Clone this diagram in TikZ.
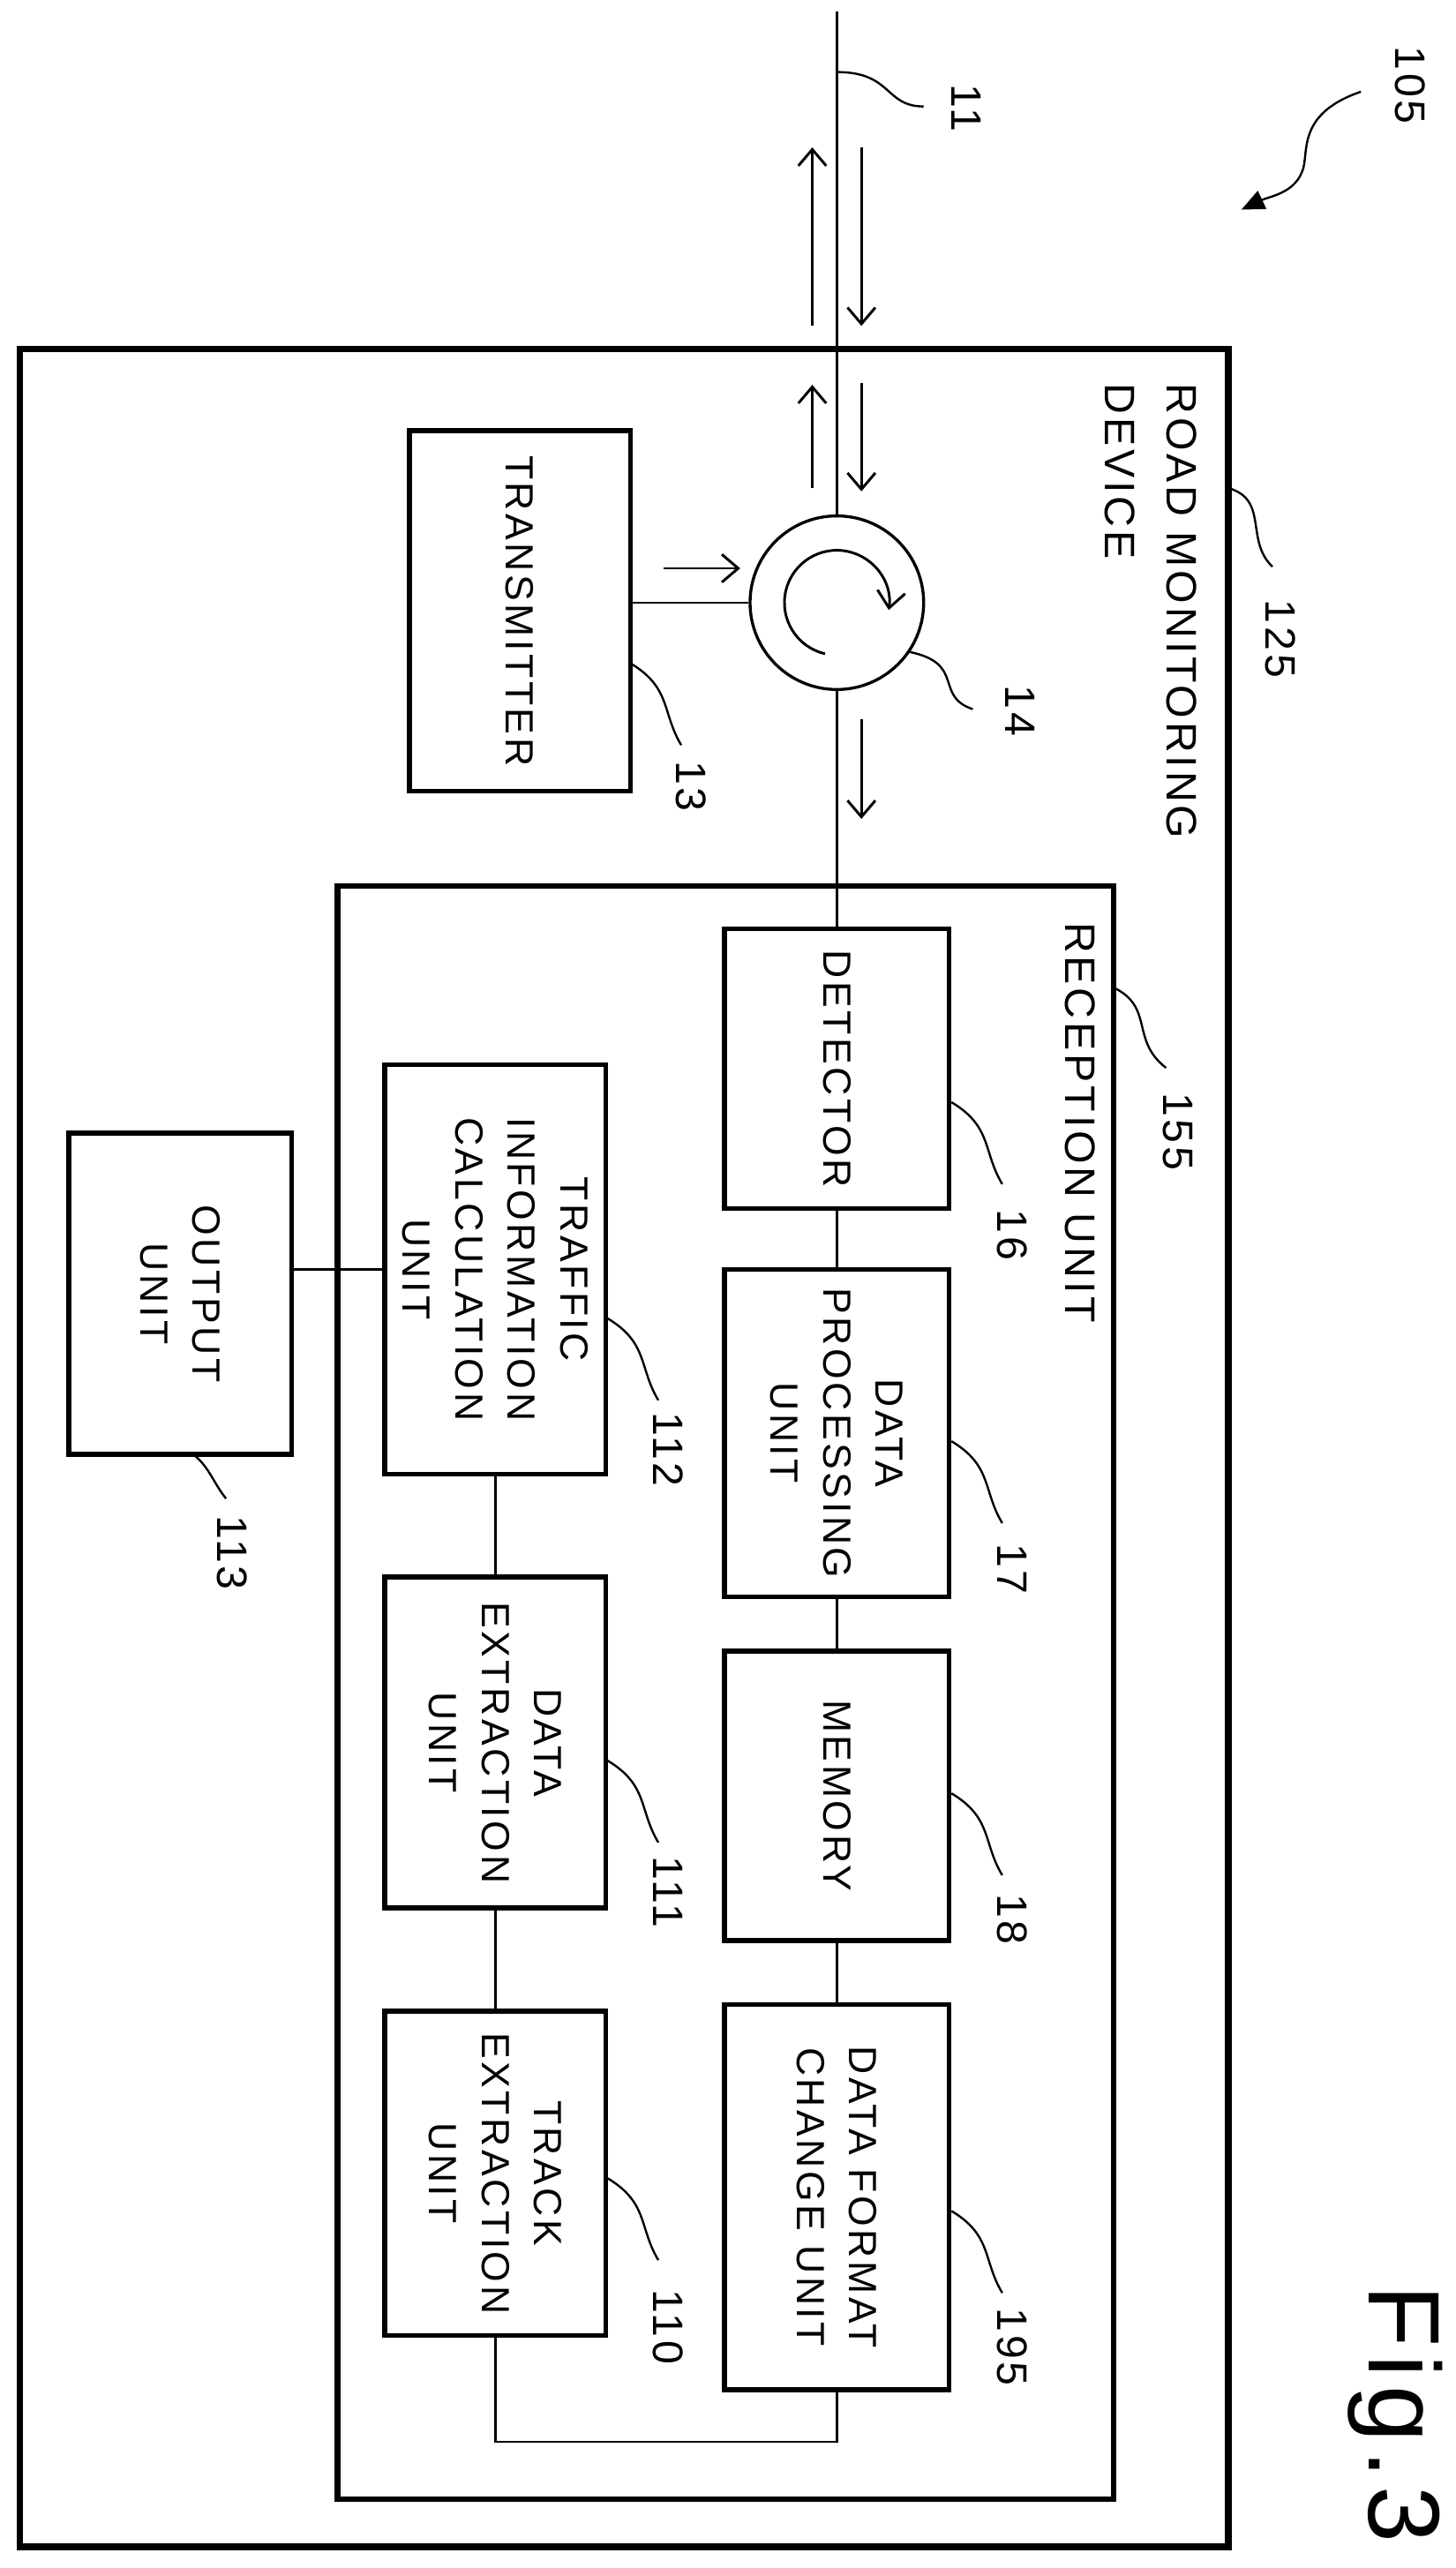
\documentclass[tikz,border=0pt]{standalone}
\usepackage{fontspec}
\setmainfont{Liberation Sans}[LetterSpace=8]
\usetikzlibrary{arrows.meta,calc}
\begin{document}
\begin{tikzpicture}[x=1pt,y=1pt,
  box/.style={draw,line width=3pt,inner sep=0pt},
  txt/.style={rotate=-90,align=center,font=\fontsize{24}{32}\selectfont,inner sep=0pt},
  lbl/.style={rotate=-90,font=\fontsize{26}{30}\selectfont,inner sep=0pt},
  wire/.style={line width=1.3pt},
  lead/.style={line width=1.3pt},
  sig/.style={line width=1.6pt,-{Straight Barb[length=10pt,width=17pt,line width=1.6pt]}}]
\useasboundingbox (0,0) rectangle (889,-1568);
% outer boxes
\draw[line width=4pt] (12,-213) rectangle (750,-1555);
\draw[line width=3.5pt] (206,-541) rectangle (680,-1526);
\node[rotate=-90,anchor=north west,align=left,inner sep=0pt,font=\fontsize{26}{38}\selectfont] (rmd) at (731,-234) {ROAD MONITORING\\DEVICE};
\node[rotate=-90,anchor=north west,inner sep=0pt,font=\fontsize{26}{32}\selectfont] (rut) at (669,-563) {RECEPTION UNIT};
% circulator
\node[draw,circle,line width=1.8pt,minimum size=106pt,inner sep=0pt] (circ) at (511,-368) {};
\draw[sig] ($(circ.center)+(257:32)$) arc[start angle=257,end angle=-8,radius=32];
% boxes
\node[box,minimum width=135pt,minimum height=220pt] (tx) at (317.5,-373) {};
\node[txt] (txt1) at (tx) {TRANSMITTER};
\node[box,minimum width=137pt,minimum height=171pt] (det) at (511,-652.5) {};
\node[txt] (txt2) at (det) {DETECTOR};
\node[box,minimum width=137pt,minimum height=200pt] (dp) at (511,-875) {};
\node[txt] (txt3) at (dp) {DATA\\PROCESSING\\UNIT};
\node[box,minimum width=137pt,minimum height=177pt] (mem) at (511,-1096.5) {};
\node[txt] (txt4) at (mem) {MEMORY};
\node[box,minimum width=137pt,minimum height=235pt] (dfc) at (511,-1341.5) {};
\node[txt] (txt5) at (dfc) {DATA FORMAT\\CHANGE UNIT};
\node[box,minimum width=135pt,minimum height=250pt] (tic) at (302.5,-775) {};
\node[txt] (txt6) at (tic) {TRAFFIC\\INFORMATION\\CALCULATION\\UNIT};
\node[box,minimum width=135pt,minimum height=202pt] (dex) at (302.5,-1064) {};
\node[txt] (txt7) at (dex) {DATA\\EXTRACTION\\UNIT};
\node[box,minimum width=135pt,minimum height=198pt] (trk) at (302.5,-1327) {};
\node[txt] (txt8) at (trk) {TRACK\\EXTRACTION\\UNIT};
\node[box,minimum width=136pt,minimum height=196pt] (out) at (110,-790) {};
\node[txt] (txt9) at (out) {OUTPUT\\UNIT};
% wires
\coordinate (top) at (511,-7);
\coordinate (loop) at (400,-1491);
\draw[wire] (top) -- (circ.north);
\draw[wire] (circ.south) -- (det.north);
\draw[wire] (tx.east |- circ.west) -- (circ.west);
\draw[wire] (det.south) -- (dp.north);
\draw[wire] (dp.south) -- (mem.north);
\draw[wire] (mem.south) -- (dfc.north);
\draw[wire] (dfc.south) -- (dfc.south |- loop) -| (trk.south);
\draw[wire] (trk.north) -- (dex.south);
\draw[wire] (dex.north) -- (tic.south);
\draw[wire] (tic.west) -- (out.east |- tic.west);
% signal arrows
\coordinate (a1s) at (496,-199); \coordinate (a1e) at (496,-90);
\coordinate (a2s) at (526,-90); \coordinate (a2e) at (526,-199);
\coordinate (a3s) at (496,-298); \coordinate (a3e) at (496,-235);
\coordinate (a4s) at (526,-234); \coordinate (a4e) at (526,-300);
\coordinate (a5s) at (405,-347); \coordinate (a5e) at (452,-347);
\coordinate (a6s) at (526,-439); \coordinate (a6e) at (526,-500);
\draw[sig] (a1s) -- (a1e);
\draw[sig] (a2s) -- (a2e);
\draw[sig] (a3s) -- (a3e);
\draw[sig] (a4s) -- (a4e);
\draw[sig] (a5s) -- (a5e);
\draw[sig] (a6s) -- (a6e);
% 105
\coordinate (r105s) at (831,-56); \coordinate (r105e) at (758,-128);
\draw[lead,-{Triangle[length=14pt,width=12pt]}] (r105s) .. controls (790,-70) and (800,-95) .. (795,-105) .. controls (790,-118) and (775,-120) .. (r105e);
\node[lbl] (l105) at (861,-52) {105};
% leaders
\coordinate (s11) at (511,-44); \coordinate (e11) at (564,-65);
\draw[lead] (s11) .. controls (545,-44) and (540,-65) .. (e11);
\node[lbl] (l11) at (590,-66) {11};
\coordinate (s125) at (750,-298); \coordinate (e125) at (777,-346);
\draw[lead] (s125) .. controls (775,-305) and (760,-330) .. (e125);
\node[lbl] (l125) at (782,-390) {125};
\coordinate (s14) at (555,-398); \coordinate (e14) at (594,-433);
\draw[lead] (s14) .. controls (590,-405) and (570,-425) .. (e14);
\node[lbl] (l14) at (623,-434) {14};
\coordinate (s155) at (680,-603); \coordinate (e155) at (712,-652);
\draw[lead] (s155) .. controls (705,-615) and (690,-635) .. (e155);
\node[lbl] (l155) at (719,-691) {155};
\foreach \n/\sx/\sy/\ly in {16/581/673/754, 17/581/880/958, 18/581/1095/1172, 195/581/1350/1433, 13/385/405/480, 112/371/805/885, 111/371/1075/1155, 110/371/1330/1421}{
  \coordinate (s\n) at (\sx,-\sy);
  \coordinate (e\n) at ($(s\n)+(31,-50)$);
  \draw[lead] (s\n) .. controls +(25,-15) and +(-12,20) .. (e\n);
  \node[lbl] (l\n) at ($(s\n)+(37,-\ly+\sy)$) {\n};
}
\coordinate (s113) at (118,-888); \coordinate (e113) at (138,-915);
\draw[lead] (s113) .. controls +(10,-8) and +(-8,10) .. (e113);
\node[lbl] (l113) at (142,-948) {113};
\node[rotate=-90,inner sep=0pt,font=\fontsize{62}{70}\selectfont] (fig) at (852,-1474) {Fig.3};
\end{tikzpicture}
\end{document}
